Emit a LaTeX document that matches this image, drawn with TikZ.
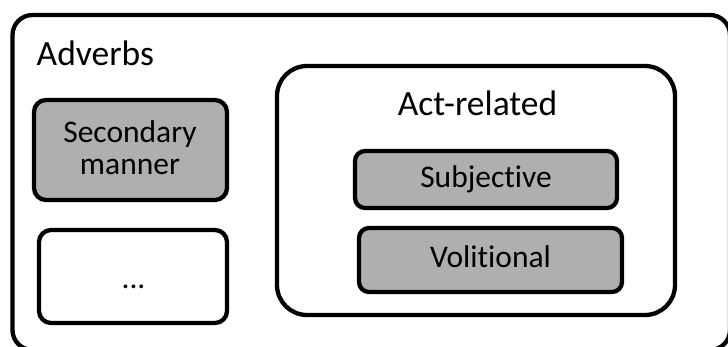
\documentclass[tikz,border=0pt]{standalone}
\usepackage{fontspec}
\setmainfont[Ligatures={NoCommon,TeX}]{Carlito}
\definecolor{boxgray}{RGB}{175,175,175}
\begin{document}
\begin{tikzpicture}[x=1pt,y=-1pt,
  frame/.style={draw=black,line width=4.3pt,inner sep=0pt,outer sep=0pt},
  catbox/.style={frame,fill=boxgray,rounded corners=10pt},
  bigtext/.style={font=\fontsize{35.5}{40}\selectfont,inner sep=0pt,anchor=base},
  smalltext/.style={font=\fontsize{31.5}{36}\selectfont,inner sep=0pt,anchor=base}]
\useasboundingbox (0,0) rectangle (728,347);
\clip (0,0) rectangle (728,347);

% outer container, running past the right and bottom edges
\node[frame,rounded corners=20pt,minimum width=717.5pt,minimum height=335pt] (adverbs) at (371.25,182.5) {};
\node[bigtext,anchor=base west] (adverbslabel) at (36.5,66) {Adverbs};

% left column
\node[catbox,rounded corners=12pt,minimum width=193pt,minimum height=100pt] (secondary) at (130.5,150) {};
\node[smalltext] (secondaryA) at (130,143) {Secondary};
\node[smalltext] (secondaryB) at (130,175) {manner};

\node[frame,fill=white,rounded corners=12pt,minimum width=188pt,minimum height=93pt] (other) at (133,276.5) {};
\node[smalltext] (otherlabel) at (133.5,288) {...};

% act-related group
\node[frame,rounded corners=30pt,minimum width=398pt,minimum height=249pt] (act) at (476,190.5) {};
\node[bigtext] (actlabel) at (477.5,116) {Act-related};

\node[catbox,minimum width=262pt,minimum height=57pt] (subjective) at (486,179.5) {};
\node[smalltext] (subjectivelabel) at (486,188) {Subjective};

\node[catbox,minimum width=263pt,minimum height=64pt] (volitional) at (490.5,260) {};
\node[smalltext] (volitionallabel) at (490.5,268) {Volitional};
\end{tikzpicture}
\end{document}
